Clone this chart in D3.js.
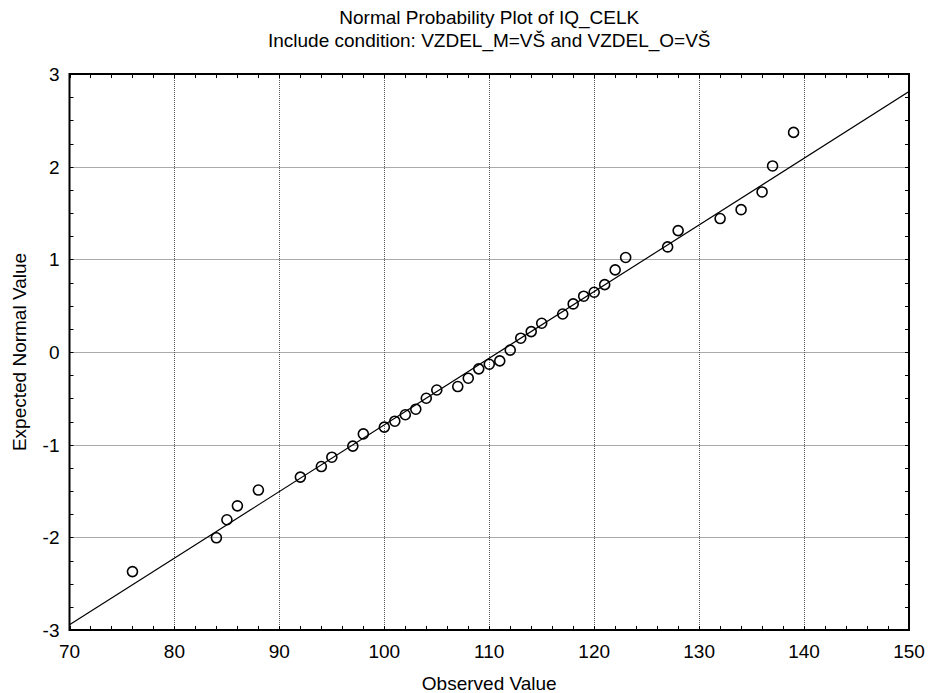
<!DOCTYPE html>
<html>
<head>
<meta charset="utf-8">
<script src="https://cdn.jsdelivr.net/npm/d3@7"></script>
<style>
  body { margin: 0; background: #fff; }
  text { font-family: "Liberation Sans", Arial, sans-serif; fill: #000; }
</style>
</head>
<body>
<svg id="chart" width="929" height="693"></svg>
<script>
const titleLines = ["Normal Probability Plot of IQ_CELK", "Include condition: VZDEL_M=VŠ and VZDEL_O=VŠ"];
const xLabel = "Observed Value";
const yLabel = "Expected Normal Value";
const observed = [76,84,85,86,88,92,94,95,97,98,100,101,102,103,104,105,107,108,109,110,111,112,113,114,115,117,118,119,120,121,122,123,127,128,132,134,136,137,139];
const expected = [-2.37,-2.005,-1.81,-1.66,-1.49,-1.35,-1.236,-1.135,-1.016,-0.884,-0.811,-0.747,-0.677,-0.617,-0.499,-0.41,-0.373,-0.283,-0.182,-0.132,-0.096,0.02,0.149,0.22,0.31,0.41,0.519,0.602,0.645,0.727,0.886,1.02,1.134,1.31,1.44,1.536,1.727,2.008,2.37];
const fitX = [70, 150];
const fitY = [-2.944, 2.81];
const xTicks = [70,80,90,100,110,120,130,140,150];
const yTicks = [-3,-2,-1,0,1,2,3];

const svg = d3.select("#chart");
const L = 69.5, R = 909, T = 74, B = 630;
const x = d3.scaleLinear().domain([70,150]).range([L,R]);
const y = d3.scaleLinear().domain([-3,3]).range([B,T]);
const FS = 19;

svg.append("defs").append("clipPath").attr("id","clip")
  .append("rect").attr("x",L).attr("y",T).attr("width",R-L).attr("height",B-T);

// grid
const grid = svg.append("g").attr("stroke","#555").attr("stroke-width",1).attr("stroke-dasharray","1,1");
grid.selectAll(".gx").data(xTicks.slice(1,-1)).join("line")
  .attr("x1",d=>Math.round(x(d))+0.5).attr("x2",d=>Math.round(x(d))+0.5).attr("y1",T).attr("y2",B);
grid.selectAll(".gy").data(yTicks.slice(1,-1)).join("line")
  .attr("y1",d=>Math.round(y(d))+0.5).attr("y2",d=>Math.round(y(d))+0.5).attr("x1",L).attr("x2",R);

// minor ticks inside
const ticksG = svg.append("g").attr("stroke","#000").attr("stroke-width",1);
const xMinor = d3.range(70,150.01,2);
const yMinor = d3.range(-3,3.001,0.25);
ticksG.selectAll(".tb").data(xMinor).join("line")
  .attr("x1",d=>Math.round(x(d))+0.5).attr("x2",d=>Math.round(x(d))+0.5).attr("y1",B).attr("y2",B-4);
ticksG.selectAll(".tt").data(xMinor).join("line")
  .attr("x1",d=>Math.round(x(d))+0.5).attr("x2",d=>Math.round(x(d))+0.5).attr("y1",T).attr("y2",T+4);
ticksG.selectAll(".tl").data(yMinor).join("line")
  .attr("y1",d=>Math.round(y(d))+0.5).attr("y2",d=>Math.round(y(d))+0.5).attr("x1",L).attr("x2",L+4);
ticksG.selectAll(".tr").data(yMinor).join("line")
  .attr("y1",d=>Math.round(y(d))+0.5).attr("y2",d=>Math.round(y(d))+0.5).attr("x1",R).attr("x2",R-4);

// frame
svg.append("rect").attr("x",L).attr("y",T).attr("width",R-L).attr("height",B-T)
  .attr("fill","none").attr("stroke","#000").attr("stroke-width",2);

// fit line
svg.append("g").attr("clip-path","url(#clip)").append("path")
  .datum(fitX.map((v,i)=>[v,fitY[i]]))
  .attr("d", d3.line().x(d=>x(d[0])).y(d=>y(d[1])))
  .attr("fill","none").attr("stroke","#000").attr("stroke-width",1.2);

// points
svg.append("g").selectAll("circle").data(observed.map((v,i)=>[v,expected[i]])).join("circle")
  .attr("cx",d=>x(d[0])).attr("cy",d=>y(d[1])).attr("r",5)
  .attr("fill","none").attr("stroke","#000").attr("stroke-width",1.6);

// tick labels
svg.append("g").selectAll("text").data(xTicks).join("text")
  .attr("x",d=>x(d)).attr("y",B+28).attr("text-anchor","middle")
  .attr("font-size",FS).text(d=>d);
svg.append("g").selectAll("text").data(yTicks).join("text")
  .attr("x",L-10).attr("y",d=>y(d)+7).attr("text-anchor","end")
  .attr("font-size",FS).text(d=>d);

// titles
svg.append("text").attr("x",(L+R)/2).attr("y",24).attr("text-anchor","middle").attr("font-size",FS).text(titleLines[0]);
svg.append("text").attr("x",(L+R)/2).attr("y",47).attr("text-anchor","middle").attr("font-size",FS).text(titleLines[1]);
svg.append("text").attr("x",(L+R)/2).attr("y",690).attr("text-anchor","middle").attr("font-size",FS).text(xLabel);
svg.append("text").attr("transform",`translate(26,${(T+B)/2}) rotate(-90)`).attr("text-anchor","middle").attr("font-size",FS).text(yLabel);
</script>
</body>
</html>
